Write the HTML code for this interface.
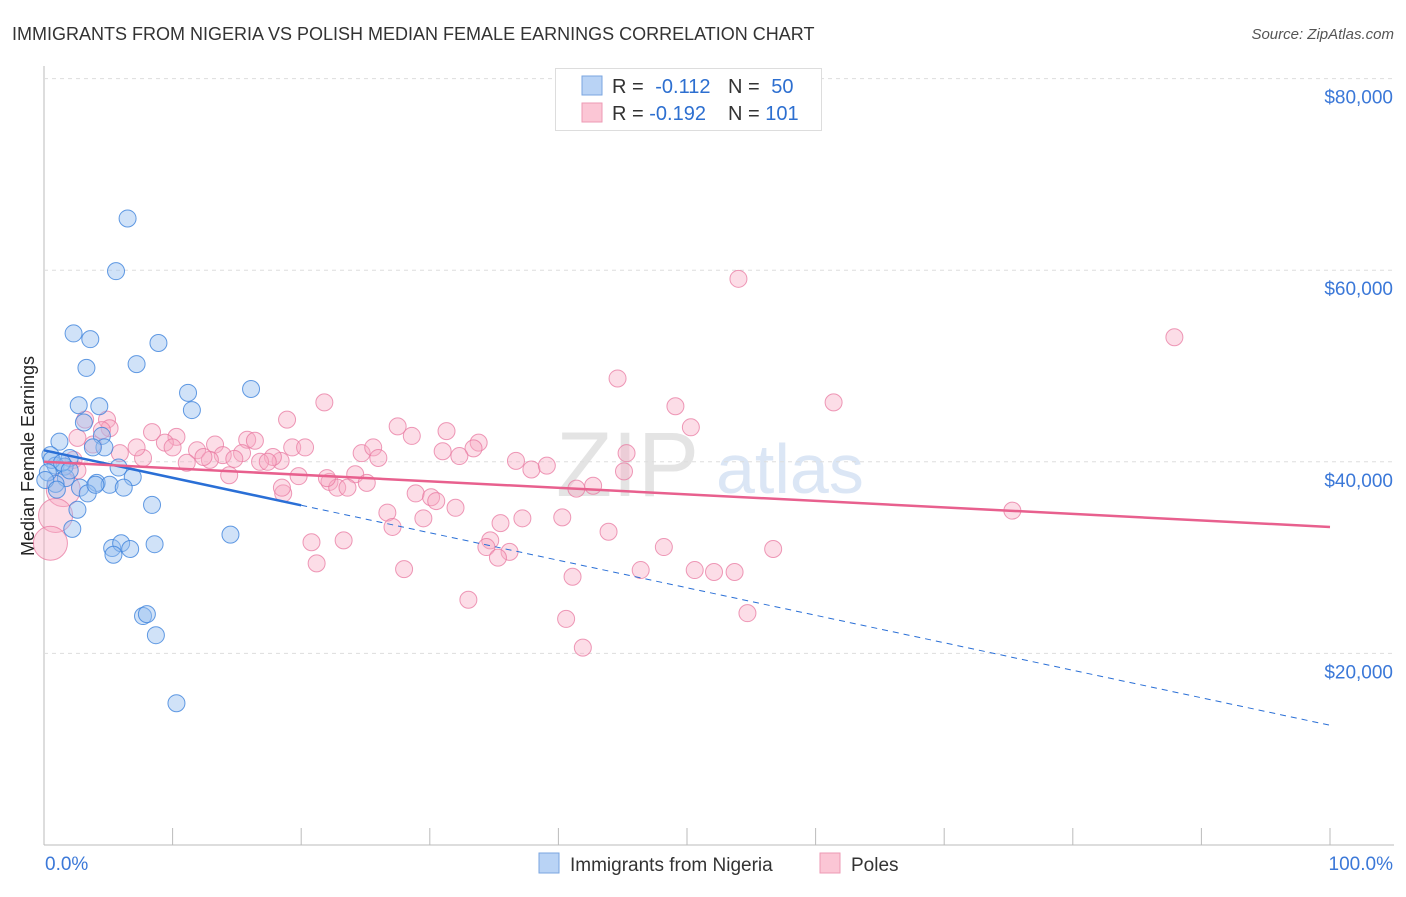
<!DOCTYPE html>
<html><head><meta charset="utf-8"><style>
body{margin:0;background:#fff;font-family:"Liberation Sans",sans-serif;}
svg text{font-family:"Liberation Sans",sans-serif;}
</style></head><body>
<svg id="chart" width="1406" height="892">
<text x="12" y="40" font-size="18" fill="#333">IMMIGRANTS FROM NIGERIA VS POLISH MEDIAN FEMALE EARNINGS CORRELATION CHART</text>
<text x="1394" y="39" font-size="15" fill="#555" font-style="italic" text-anchor="end">Source: ZipAtlas.com</text>
<text x="34" y="456" font-size="18" fill="#222" text-anchor="middle" transform="rotate(-90 34 456)">Median Female Earnings</text>
<text x="556" y="496" font-size="92" fill="#e4e4e4" font-family="Liberation Serif">ZIP</text>
<text x="716" y="493" font-size="70" fill="#dbe6f5">atlas</text>
<g id="grid"></g>
<g id="pts"></g>
<g id="trends"></g>
<g>
<rect x="555.5" y="68.5" width="266" height="62" fill="#fff" stroke="#ddd"/>
<rect x="582" y="76" width="20" height="19" fill="#b9d3f5" stroke="#7aa6e0"/>
<rect x="582" y="103" width="20" height="19" fill="#fbc6d5" stroke="#ee9ab4"/>
<text x="612" y="93" font-size="20" fill="#333">R = <tspan fill="#2d6fd0" dx="6">-0.112</tspan></text>
<text x="728" y="93" font-size="20" fill="#333">N = <tspan fill="#2d6fd0" dx="6">50</tspan></text>
<text x="612" y="120" font-size="20" fill="#333">R = <tspan fill="#2d6fd0">-0.192</tspan></text>
<text x="728" y="120" font-size="20" fill="#333">N = <tspan fill="#2d6fd0">101</tspan></text>
</g>
<g>
<rect x="539" y="853" width="20" height="20" fill="#b9d3f5" stroke="#7aa6e0"/>
<text x="570" y="871" font-size="19" fill="#333">Immigrants from Nigeria</text>
<rect x="820" y="853" width="20" height="20" fill="#fbc6d5" stroke="#ee9ab4"/>
<text x="851" y="871" font-size="19" fill="#333">Poles</text>
</g>
</svg>
<script>
const yTicks=[20000,40000,60000,80000];
const yTickLabels=["$20,000","$40,000","$60,000","$80,000"];
const xTickLabels=["0.0%","100.0%"];
const nigeriaX=[6.5,5.6,2.3,3.6,8.9,3.3,7.2,11.2,16.1,2.7,4.3,11.5,3.1,1.2,4.5,4.7,3.8,0.5,2.0,0.9,1.6,5.8,6.9,1.7,0.9,4.1,5.1,6.2,2.8,3.4,8.4,2.6,2.2,14.5,8.6,5.3,6.0,5.4,6.7,7.7,8.0,8.7,10.3,0.6,1.4,0.3,0.1,1.0,4.0,2.0];
const nigeriaY=[65.4,59.9,53.4,52.8,52.4,49.8,50.2,47.2,47.6,45.9,45.8,45.4,44.1,42.1,42.7,41.5,41.5,40.7,40.4,39.6,39.5,39.4,38.4,38.3,37.7,37.8,37.6,37.3,37.3,36.7,35.5,35.0,33.0,32.4,31.4,31.0,31.5,30.3,30.9,23.9,24.1,21.9,14.8,40.2,39.9,38.9,38.1,37.1,37.6,39.1];
const polesX=[44.6,21.8,18.9,49.1,50.3,27.5,28.6,31.3,33.8,33.4,31.0,32.3,19.3,20.3,24.7,25.6,26.0,18.4,36.7,37.9,39.1,45.3,45.1,19.8,24.2,22.2,22.8,23.6,25.1,18.6,28.9,30.1,30.5,32.0,41.4,42.7,26.7,29.5,27.1,35.5,37.2,40.3,43.9,20.8,23.3,34.7,34.4,36.2,35.3,48.2,56.7,21.2,28.0,41.1,46.4,50.6,52.1,53.7,33.0,54.7,40.6,41.9,54.0,87.9,61.4,75.3,4.9,3.2,5.1,2.6,4.5,8.4,10.3,9.4,10.0,13.3,15.8,16.4,11.9,13.9,15.4,17.8,16.8,17.4,14.8,12.9,12.4,11.1,7.7,3.8,2.3,5.9,14.4,18.5,22.0,2.6,7.2,1.5,0.9,0.5];
const polesY=[48.7,46.2,44.4,45.8,43.6,43.7,42.7,43.2,42.0,41.4,41.1,40.6,41.5,41.5,40.9,41.5,40.4,40.1,40.1,39.2,39.6,40.9,39.0,38.5,38.7,37.9,37.3,37.3,37.8,36.7,36.7,36.3,35.9,35.2,37.2,37.5,34.7,34.1,33.2,33.6,34.1,34.2,32.7,31.6,31.8,31.8,31.1,30.6,30.0,31.1,30.9,29.4,28.8,28.0,28.7,28.7,28.5,28.5,25.6,24.2,23.6,20.6,59.1,53.0,46.2,34.9,44.4,44.4,43.5,42.5,43.3,43.1,42.6,42.0,41.5,41.8,42.3,42.2,41.2,40.7,40.9,40.5,40.0,40.0,40.3,40.2,40.5,39.9,40.4,41.8,40.2,40.9,38.6,37.3,38.3,39.1,41.5,37.1,34.4,31.5];
const polesBig=[97,98,99];
const nigeriaTrend=[41.2,12.5];
const polesTrend=[40.0,33.2];
const NS="http://www.w3.org/2000/svg";
const xs=v=>44+v/100*1286;
const ys=v=>845-v/20000*191.6;
function mk(tag,attrs,parent){const e=document.createElementNS(NS,tag);for(const k in attrs)e.setAttribute(k,attrs[k]);parent.appendChild(e);return e;}
const svg=document.getElementById('chart');
const grid=document.getElementById('grid');
// axes
let ax=mk('line',{x1:44,y1:66,x2:44,y2:845,stroke:'#bbb'},grid);


let bx=mk('line',{x1:44,y1:845,x2:1394,y2:845,stroke:'#bbb'},grid);


for(let i=0;i<=10;i++){let t=mk('line',{x1:xs(i*10),y1:828,x2:xs(i*10),y2:845,stroke:'#bbb'},grid);

}
yTicks.forEach((v,i)=>{
let g=mk('line',{x1:44,x2:1394,y1:ys(v),y2:ys(v),stroke:'#ddd','stroke-dasharray':'4,4'},grid);


let t=mk('text',{x:1393,y:ys(v)+25,'font-size':19,fill:'#3b78d8','text-anchor':'end'},grid);
t.textContent=yTickLabels[i];


});
let xl0=mk('text',{x:45,y:870,'font-size':19,fill:'#3b78d8'},grid);xl0.textContent=xTickLabels[0];


let xl1=mk('text',{x:1393,y:870,'font-size':19,fill:'#3b78d8','text-anchor':'end'},grid);xl1.textContent=xTickLabels[1];


const pts=document.getElementById('pts');
polesX.forEach((x,i)=>{
let c=mk('circle',{cx:xs(x),cy:ys(polesY[i]*1000),r:polesBig.includes(i)?17:8.5,fill:'rgba(248,170,195,0.4)',stroke:'rgba(232,120,160,0.75)','stroke-width':1},pts);


});
nigeriaX.forEach((x,i)=>{
let c=mk('circle',{cx:xs(x),cy:ys(nigeriaY[i]*1000),r:8.5,fill:'rgba(150,190,240,0.45)',stroke:'rgba(60,130,220,0.8)','stroke-width':1},pts);


});
const tr=document.getElementById('trends');
const nAt=x=>nigeriaTrend[0]+(nigeriaTrend[1]-nigeriaTrend[0])*x/100;
let l1=mk('line',{x1:xs(0),y1:ys(nAt(0)*1000),x2:xs(20),y2:ys(nAt(20)*1000),stroke:'#2a6fd6','stroke-width':2.5},tr);


let l2=mk('line',{x1:xs(20),y1:ys(nAt(20)*1000),x2:xs(100),y2:ys(nAt(100)*1000),stroke:'#2a6fd6','stroke-width':1,'stroke-dasharray':'6,5'},tr);


let l3=mk('line',{x1:xs(0),y1:ys(polesTrend[0]*1000),x2:xs(100),y2:ys(polesTrend[1]*1000),stroke:'#e8608e','stroke-width':2.5},tr);


</script>
</body></html>
